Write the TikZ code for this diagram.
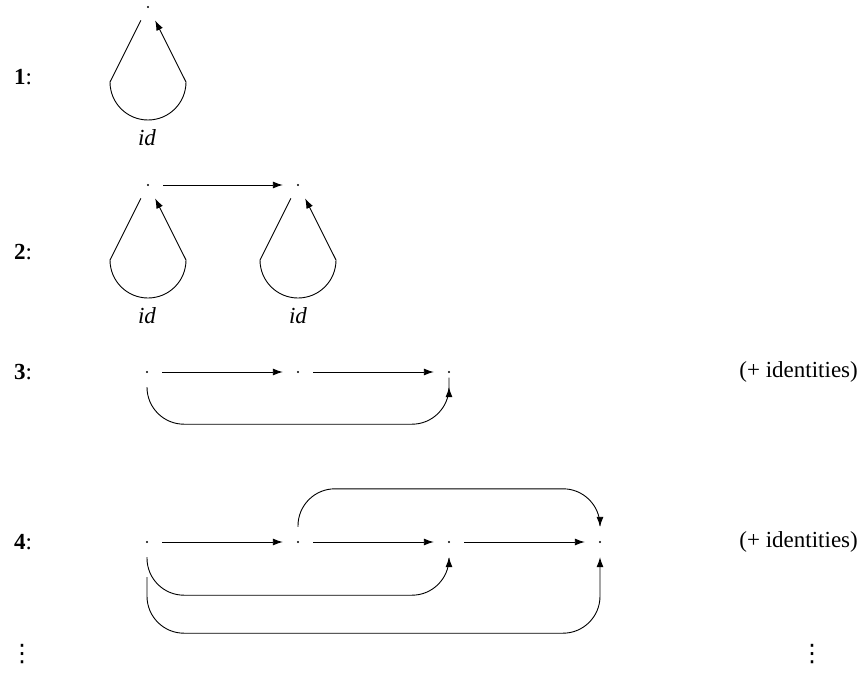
\documentclass[tikz,border=0pt]{standalone}
\usepackage{fontspec}
\setmainfont{Liberation Serif}
\newfontfamily\dvfont{DejaVu Sans}
\usetikzlibrary{arrows.meta,calc}
\tikzset{
  obj/.style={circle, minimum size=30pt, inner sep=0pt,
    path picture={\fill (path picture bounding box.center) circle (1.2pt);}},
  arr/.style={-{Latex[length=10pt,width=7pt]}, line width=0.9pt},
  lbl/.style={font=\fontsize{23}{27}\selectfont, inner sep=0pt},
  vdlbl/.style={font=\dvfont\fontsize{24}{28}\selectfont, inner sep=0pt},
}
\newcommand\idloop[1]{%
  \draw[arr] (#1.-118) -- ($(#1)+(-38,75)$)
    .. controls ($(#1)+(-38,96)$) and ($(#1)+(-21,113)$) .. ($(#1)+(0,113)$)
    .. controls ($(#1)+(21,113)$) and ($(#1)+(38,96)$) .. ($(#1)+(38,75)$)
    -- (#1.-62);}
\begin{document}
\begin{tikzpicture}[x=1pt,y=-1pt]
\useasboundingbox (0,0) rectangle (859,674);
% row 1
\node[obj] (r1a) at (148,7) {};
\idloop{r1a}
\node[lbl] (id1) at (147,138) {\textit{id}};
\node[lbl,anchor=west] (n1) at (14,77) {\textbf{1}:};
% row 2
\node[obj] (r2a) at (148,185) {};
\node[obj] (r2b) at (298,185) {};
\draw[arr] (r2a) -- (r2b);
\idloop{r2a}
\idloop{r2b}
\node[lbl] (id2a) at (147,316) {\textit{id}};
\node[lbl] (id2b) at (298,316) {\textit{id}};
\node[lbl,anchor=west] (n2) at (14,252) {\textbf{2}:};
% row 3
\node[obj] (r3a) at (147,372) {};
\node[obj] (r3b) at (298,372) {};
\node[obj] (r3c) at (449,372) {};
\draw[arr] (r3a) -- (r3b);
\draw[arr] (r3b) -- (r3c);
\draw[arr, rounded corners=37pt] (r3a.south) |- ($(r3c.south)+(0,37)$) -- (r3c.south);
\node[lbl,anchor=west] (n3) at (14,372) {\textbf{3}:};
\node[lbl,anchor=east] (ids3) at (858,372) {(+ identities)};
% row 4
\node[obj] (r4a) at (147,542) {};
\node[obj] (r4b) at (298,542) {};
\node[obj] (r4c) at (449,542) {};
\node[obj] (r4d) at (600,542) {};
\draw[arr] (r4a) -- (r4b);
\draw[arr] (r4b) -- (r4c);
\draw[arr] (r4c) -- (r4d);
\draw[arr, rounded corners=37pt] (r4b.north) |- ($(r4d.north)+(0,-38)$) -- (r4d.north);
\draw[arr, rounded corners=37pt] (r4a.south) |- ($(r4c.south)+(0,38)$) -- (r4c.south);
\draw[arr, rounded corners=37pt] ($(r4a.south)+(0,20)$) |- ($(r4d.south)+(0,76)$) -- (r4d.south);
\node[lbl,anchor=west] (n4) at (14,542) {\textbf{4}:};
\node[lbl,anchor=east] (ids4) at (858,542) {(+ identities)};
% vertical dots
\node[vdlbl] (vd1) at (22,654) {⋮};
\node[vdlbl] (vd2) at (812,654) {⋮};
\end{tikzpicture}
\end{document}
